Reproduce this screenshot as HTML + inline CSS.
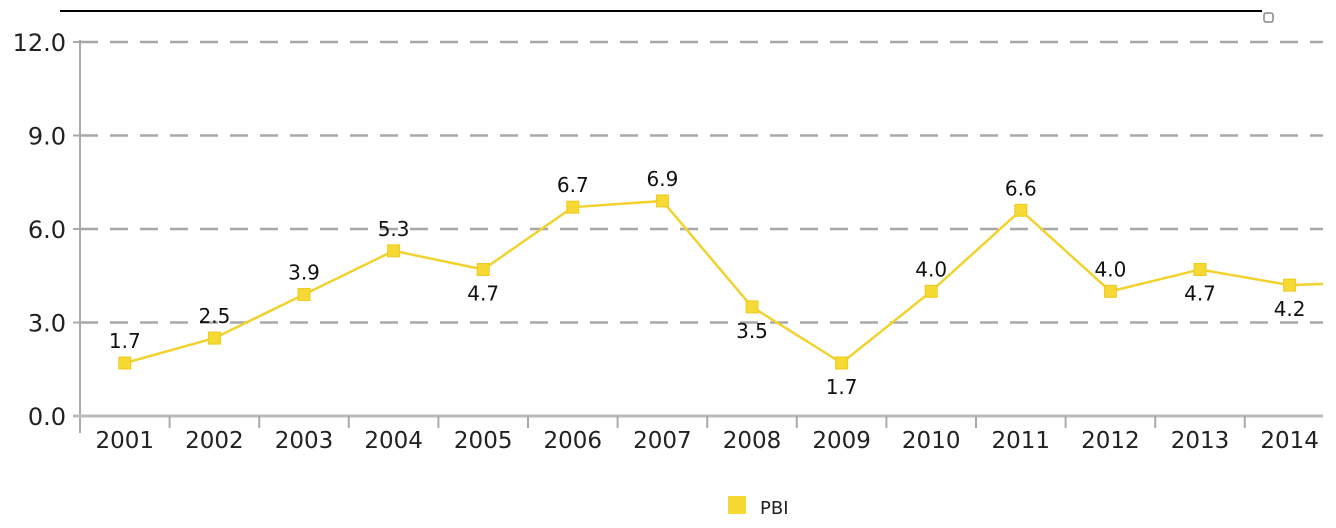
<!DOCTYPE html>
<html><head><meta charset="utf-8"><style>
html,body{margin:0;padding:0;background:#fff;}
svg{display:block;font-family:"DejaVu Sans","Liberation Sans",sans-serif;}
</style></head><body>
<svg id="chart" width="1336" height="528" viewBox="0 0 1336 528">
<line x1="60" y1="11" x2="1262" y2="11" stroke="#000" stroke-width="2"/>
<rect x="1264" y="13" width="9" height="9" rx="2" fill="#fff" stroke="#888" stroke-width="1.5"/>
<g id="grid"></g><g id="axes"></g><g id="series"></g>
<g>
<rect x="728" y="496" width="18" height="18" fill="#f7d933"/>
<text x="760" y="514" font-size="18" fill="#222">PBI</text>
</g>
</svg>
<script>
const categories=["2001","2002","2003","2004","2005","2006","2007","2008","2009","2010","2011","2012","2013","2014","2015"];
const values=[1.7,2.5,3.9,5.3,4.7,6.7,6.9,3.5,1.7,4.0,6.6,4.0,4.7,4.2,4.3];
const valueLabels=["1.7","2.5","3.9","5.3","4.7","6.7","6.9","3.5","1.7","4.0","6.6","4.0","4.7","4.2",""];
const labelBelow=[false,false,false,false,true,false,false,true,true,false,false,false,true,true,false];
const yTicks=[0,3,6,9,12];
const yTickLabels=["0.0","3.0","6.0","9.0","12.0"];
const NS="http://www.w3.org/2000/svg";
const x0=80,band=89.6,yBase=416,yTop=42,yMax=12,clipX=1323;
const xs=i=>x0+band*(i+0.5);
const ys=v=>yBase-(v/yMax)*(yBase-yTop);
function mk(tag,attrs,parent,text){const e=document.createElementNS(NS,tag);for(const k in attrs)e.setAttribute(k,attrs[k]);if(text!==undefined)e.textContent=text;parent.appendChild(e);return e;}
const grid=document.getElementById('grid'),axes=document.getElementById('axes'),ser=document.getElementById('series');
yTicks.forEach((t,i)=>{
  const y=ys(t);
  if(t>0){const l=mk('line',{x1:x0,y1:y,x2:clipX,y2:y,stroke:'#a8a8a8','stroke-width':2.5,'stroke-dasharray':'18,12'},grid);
  
  }
  const tk=mk('line',{x1:73,y1:y,x2:x0,y2:y,stroke:'#aaa','stroke-width':2},axes);
  
  
  const tx=mk('text',{x:66,y:y+9,'text-anchor':'end','font-size':24,fill:'#222'},axes,yTickLabels[i]);
  
  
});
const ya=mk('line',{x1:x0,y1:yTop-2,x2:x0,y2:yBase+17,stroke:'#aaa','stroke-width':2},axes);


const xa=mk('line',{x1:73,y1:yBase,x2:clipX,y2:yBase,stroke:'#bbb','stroke-width':3},axes);


categories.forEach((c,i)=>{
  const bx=x0+band*i;
  if(i>0&&bx<clipX){const t=mk('line',{x1:bx,y1:yBase,x2:bx,y2:yBase+12,stroke:'#aaa','stroke-width':2},axes);
  
  }
  if(xs(i)<clipX){const tx=mk('text',{x:xs(i),y:yBase+32,'text-anchor':'middle','font-size':23,fill:'#222'},axes,c);
  
  }
});
mk('clipPath',{id:'pc'},ser).appendChild(document.createElementNS(NS,'rect'));
const cr=ser.querySelector('#pc rect');cr.setAttribute('x',0);cr.setAttribute('y',0);cr.setAttribute('width',clipX);cr.setAttribute('height',528);
const pts=values.map((v,i)=>xs(i)+','+ys(v)).join(' ');
const pl=mk('polyline',{points:pts,fill:'none',stroke:'#f2d22e','stroke-width':2.5,'clip-path':'url(#pc)'},ser);


values.forEach((v,i)=>{
  const x=xs(i),y=ys(v);
  if(x>clipX)return;
  const r=mk('rect',{x:x-6,y:y-6,width:12,height:12,fill:'#f7d933',stroke:'#eccb20','stroke-width':1},ser);
  
  
  if(valueLabels[i]){const ly=labelBelow[i]?y+31:y-15;
  const t=mk('text',{x:x,y:ly,'text-anchor':'middle','font-size':20,fill:'#111'},ser,valueLabels[i]);
  
  }
});
</script>
</body></html>
